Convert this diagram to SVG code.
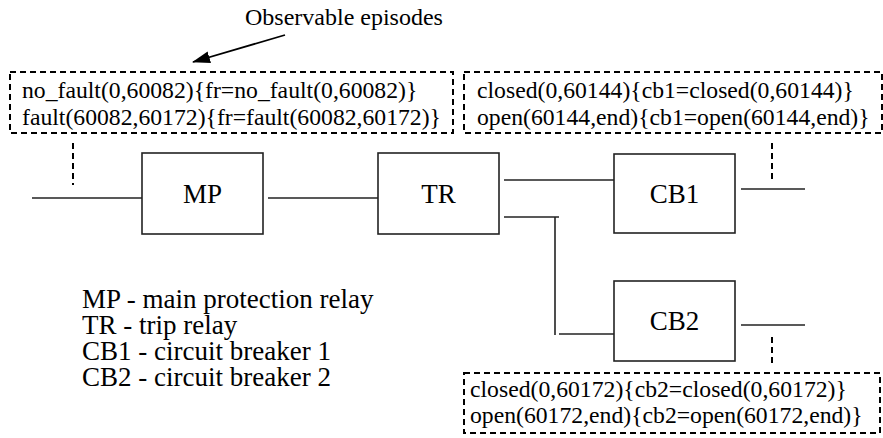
<svg xmlns="http://www.w3.org/2000/svg" width="883" height="438" viewBox="0 0 883 438" font-family="'Liberation Serif', 'DejaVu Serif', serif">
<style>
text{font-family:'Liberation Serif','DejaVu Serif',serif;fill:#000}
.ep{font-size:23.7px}
.lbl{font-size:27px;text-anchor:middle}
.leg{font-size:27px}
.box{fill:#fff;stroke:#222;stroke-width:1.6}
.wire{stroke:#222;stroke-width:1.6;fill:none}
.dash{stroke:#000;stroke-width:2;stroke-dasharray:6 4;fill:none}
</style>
<defs>
<marker id="ah" markerWidth="18" markerHeight="12" refX="17" refY="6" orient="auto" markerUnits="userSpaceOnUse">
<path d="M0,0 L18,6 L0,12 Z" fill="#000"/>
</marker>
</defs>
<rect width="883" height="438" fill="#fff"/>

<g id="title">
<text x="245" y="25" font-size="24">Observable episodes</text>
</g>

<g id="connectors">
<line class="wire" x1="285" y1="35" x2="193" y2="62" marker-end="url(#ah)" style="stroke:#000;stroke-width:1.8"/>
<line class="dash" x1="73" y1="143" x2="73" y2="185"/>
<line class="wire" x1="32" y1="198" x2="142" y2="198"/>
<line class="wire" x1="268" y1="198" x2="378" y2="198"/>
<line class="wire" x1="504" y1="180" x2="614" y2="180"/>
<line class="wire" x1="741" y1="189" x2="805" y2="189"/>
<line class="dash" x1="772" y1="143" x2="772" y2="180"/>
<line class="wire" x1="504" y1="217" x2="559" y2="217"/>
<line class="wire" x1="555" y1="217" x2="555" y2="335"/>
<line class="wire" x1="559" y1="334" x2="614" y2="334"/>
<line class="wire" x1="741" y1="325" x2="805" y2="325"/>
<line class="dash" x1="772" y1="337" x2="772" y2="365"/>
</g>

<g id="episodes-fr">
<rect class="dash" x="10" y="72" width="443" height="61"/>
<text class="ep" x="22" y="98">no_fault(0,60082){fr=no_fault(0,60082)}</text>
<text class="ep" x="22" y="125">fault(60082,60172){fr=fault(60082,60172)}</text>
</g>

<g id="episodes-cb1">
<rect class="dash" x="464" y="72" width="418" height="61"/>
<text class="ep" x="477" y="98">closed(0,60144){cb1=closed(0,60144)}</text>
<text class="ep" x="477" y="125">open(60144,end){cb1=open(60144,end)}</text>
</g>

<g id="episodes-cb2">
<rect class="dash" x="464" y="373" width="416" height="60"/>
<text class="ep" x="470" y="397">closed(0,60172){cb2=closed(0,60172)}</text>
<text class="ep" x="470" y="423">open(60172,end){cb2=open(60172,end)}</text>
</g>

<g id="MP">
<rect class="box" x="142" y="153" width="121" height="81"/>
<text class="lbl" x="202.5" y="203">MP</text>
</g>

<g id="TR">
<rect class="box" x="378" y="153" width="121" height="81"/>
<text class="lbl" x="438.5" y="203">TR</text>
</g>

<g id="CB1">
<rect class="box" x="614" y="154" width="121" height="79"/>
<text class="lbl" x="674.5" y="203">CB1</text>
</g>

<g id="CB2">
<rect class="box" x="614" y="281" width="121" height="80"/>
<text class="lbl" x="674.5" y="330">CB2</text>
</g>

<g id="legend">
<text class="leg" x="82" y="308">MP - main protection relay</text>
<text class="leg" x="82" y="334">TR - trip relay</text>
<text class="leg" x="82" y="360">CB1 - circuit breaker 1</text>
<text class="leg" x="82" y="386">CB2 - circuit breaker 2</text>
</g>
</svg>
